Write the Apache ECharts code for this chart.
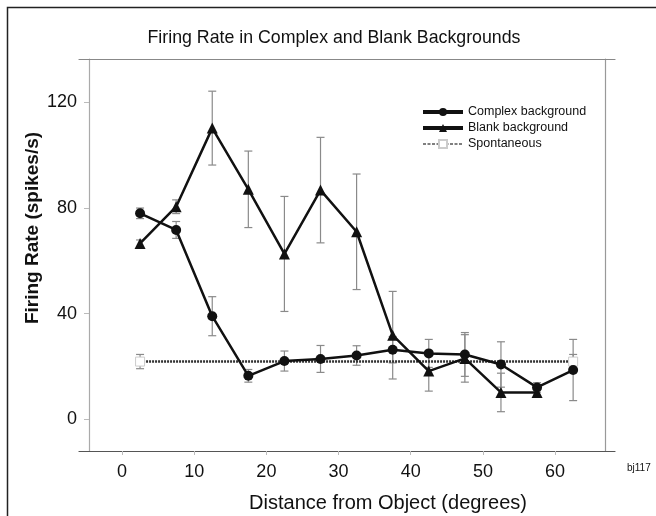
<!DOCTYPE html>
<html>
<head>
<meta charset="utf-8">
<script src="https://cdn.jsdelivr.net/npm/echarts@6/dist/echarts.min.js"></script>
<style>
html,body{margin:0;padding:0;background:#fff;}
#chart{width:656px;height:516px;}
</style>
</head>
<body>
<div id="chart"></div>
<script>
// ---- data ----
const complexX = [2.5, 7.5, 12.5, 17.5, 22.5, 27.5, 32.5, 37.5, 42.5, 47.5, 52.5, 57.5, 62.5];
const complexRate = [78, 71.7, 39, 16.4, 22, 22.8, 24.1, 26.3, 24.9, 24.5, 20.7, 12, 18.6];
const complexErr = [2, 3.2, 7.4, 2.4, 3.8, 5.1, 3.7, 5, 5.3, 8.3, 8.6, 1.8, 11.6];

const blankX = [2.5, 7.5, 12.5, 17.5, 22.5, 27.5, 32.5, 37.5, 42.5, 47.5, 52.5, 57.5];
const blankRate = [66.6, 80.5, 110.3, 87.1, 62.6, 86.8, 71, 31.8, 18.2, 23, 10.1, 10.1];
const blankErr = [1.3, 2.6, 14, 14.5, 21.8, 20, 21.9, 16.6, 7.6, 9, 7.3, 1];

const spontX = [2.5, 62.5];
const spontRate = [21.8, 21.8];
const spontErr = [2.7, 2.7];

const xTicks = [0, 10, 20, 30, 40, 50, 60];
const yTicks = [0, 40, 80, 120];

const seriesNames = ['Complex background', 'Blank background', 'Spontaneous'];
const titleText = 'Firing Rate in Complex and Blank Backgrounds';
const xTitle = 'Distance from Object (degrees)';
const yTitle = 'Firing Rate (spikes/s)';
const noteText = 'bj117';

// ---- helpers ----
function pairs(xs, ys) { return xs.map((x, i) => [x, ys[i]]); }
function triples(xs, ys, es) { return xs.map((x, i) => [x, ys[i], es[i]]); }

function errorRender(params, api) {
  const x = api.value(0), y = api.value(1), e = api.value(2);
  const top = api.coord([x, y + e]);
  const bot = api.coord([x, y - e]);
  const w = 4;
  const st = { stroke: '#8a8a8a', lineWidth: 1.2 };
  return {
    type: 'group',
    children: [
      { type: 'line', shape: { x1: top[0], y1: top[1], x2: bot[0], y2: bot[1] }, style: st },
      { type: 'line', shape: { x1: top[0] - w, y1: top[1], x2: top[0] + w, y2: top[1] }, style: st },
      { type: 'line', shape: { x1: bot[0] - w, y1: bot[1], x2: bot[0] + w, y2: bot[1] }, style: st }
    ]
  };
}

const font = '"Liberation Sans", Arial, sans-serif';
const chart = echarts.init(document.getElementById('chart'), null, { renderer: 'canvas' });

chart.setOption({
  animation: false,
  backgroundColor: '#fff',
  textStyle: { fontFamily: font },
  grid: { left: 79, right: 41, top: 59, bottom: 65, containLabel: false },
  legend: {
    orient: 'vertical',
    left: 416,
    top: 100,
    itemWidth: 40,
    itemHeight: 10,
    itemGap: 2,
    data: [
      { name: seriesNames[0], lineStyle: { width: 4, color: '#111' } },
      { name: seriesNames[1], lineStyle: { width: 4, color: '#111' } },
      { name: seriesNames[2], lineStyle: { width: 1.5, color: '#555', type: [3, 1.5] } }
    ],
    textStyle: { fontSize: 12.5, lineHeight: 14, color: '#111', fontFamily: font }
  },
  xAxis: [
    {
      type: 'value', position: 'bottom', min: -5.96, max: 68.3,
      splitLine: { show: false },
      axisLine: { show: true, onZero: false, lineStyle: { color: '#555', width: 1.2 } },
      axisTick: { show: true, length: 4, inside: false, customValues: xTicks, lineStyle: { color: '#bbb' } },
      axisLabel: { customValues: xTicks, fontSize: 18, color: '#111', margin: 12, fontFamily: font }
    },
    {
      type: 'value', position: 'top', min: -5.96, max: 68.3,
      splitLine: { show: false },
      axisLine: { show: true, onZero: false, lineStyle: { color: '#888', width: 1.2 } },
      axisTick: { show: false }, axisLabel: { show: false }
    }
  ],
  yAxis: [
    {
      type: 'value', position: 'left', offset: -10, min: -12.1, max: 136.5,
      splitLine: { show: false },
      axisLine: { show: true, onZero: false, lineStyle: { color: '#aaa', width: 1.2 } },
      axisTick: { show: true, length: 5, customValues: yTicks, lineStyle: { color: '#bbb' } },
      axisLabel: { customValues: yTicks, fontSize: 18, color: '#111', margin: 12, fontFamily: font }
    },
    {
      type: 'value', position: 'right', offset: -10, min: -12.1, max: 136.5,
      splitLine: { show: false },
      axisLine: { show: true, onZero: false, lineStyle: { color: '#999', width: 1.2 } },
      axisTick: { show: false }, axisLabel: { show: false }
    }
  ],
  graphic: [
    { type: 'rect', shape: { x: 7.5, y: 7.5, width: 800, height: 800 }, style: { fill: 'none', stroke: '#222', lineWidth: 1.5 }, silent: true },
    { type: 'text', x: 334, y: 38, style: { text: titleText, fontSize: 17.75, fill: '#111', fontFamily: font, textAlign: 'center', textVerticalAlign: 'middle' } },
    { type: 'text', x: 388, y: 503, style: { text: xTitle, fontSize: 20, fill: '#111', fontFamily: font, textAlign: 'center', textVerticalAlign: 'middle' } },
    { type: 'text', x: 33, y: 228, rotation: Math.PI / 2, style: { text: yTitle, fontSize: 19, fontWeight: 'bold', fill: '#111', fontFamily: font, textAlign: 'center', textVerticalAlign: 'middle' } },
    { type: 'text', x: 627, y: 468, style: { text: noteText, fontSize: 10, fill: '#111', fontFamily: font, textAlign: 'left', textVerticalAlign: 'middle' } }
  ],
  series: [
    { type: 'custom', name: 'errC', renderItem: errorRender, data: triples(complexX, complexRate, complexErr), z: 1, encode: { x: 0, y: 1 } },
    { type: 'custom', name: 'errB', renderItem: errorRender, data: triples(blankX, blankRate, blankErr), z: 1, encode: { x: 0, y: 1 } },
    { type: 'custom', name: 'errS', renderItem: errorRender, data: triples(spontX, spontRate, spontErr), z: 1, encode: { x: 0, y: 1 } },
    {
      type: 'line', name: seriesNames[2], data: pairs(spontX, spontRate), z: 2,
      symbol: 'rect', symbolSize: 9, showAllSymbol: true,
      itemStyle: { color: '#fff', borderColor: '#ccc', borderWidth: 1 },
      lineStyle: { color: '#333', width: 2.5, type: [2, 1] }
    },
    {
      type: 'line', name: seriesNames[0], data: pairs(complexX, complexRate), z: 3,
      symbol: 'circle', symbolSize: 10, showAllSymbol: true,
      itemStyle: { color: '#111' },
      lineStyle: { color: '#111', width: 2.5 }
    },
    {
      type: 'line', name: seriesNames[1], data: pairs(blankX, blankRate), z: 3,
      symbol: 'triangle', symbolSize: 11, showAllSymbol: true,
      itemStyle: { color: '#111' },
      lineStyle: { color: '#111', width: 2.5 }
    }
  ]
});
</script>
</body>
</html>
